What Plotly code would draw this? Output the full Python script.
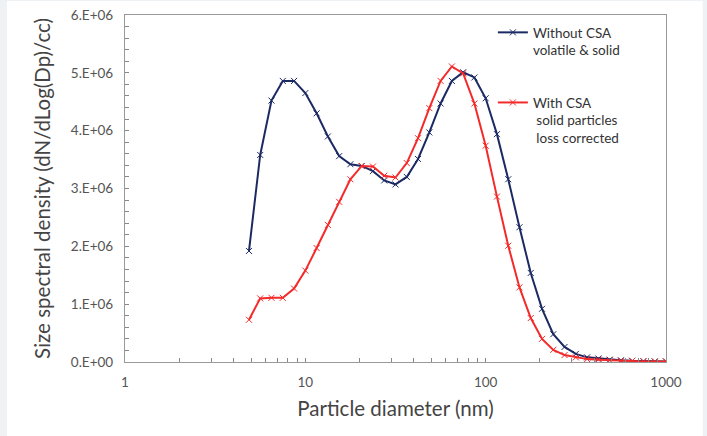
import plotly.graph_objects as go

# Particle diameters (nm), 16 channels per decade
diameter_nm = [4.87, 5.62, 6.49, 7.50, 8.66, 10.0, 11.55, 13.34, 15.40, 17.78,
               20.54, 23.71, 27.38, 31.62, 36.52, 42.17, 48.70, 56.23, 64.94, 74.99,
               86.60, 100.0, 115.5, 133.4, 154.0, 177.8, 205.4, 237.1, 273.8, 316.2,
               365.2, 421.7, 487.0, 562.3, 649.4, 749.9, 866.0, 1000.0]

# Without CSA (volatile & solid), dN/dlogDp per cc
without_csa = [1.92e6, 3.58e6, 4.52e6, 4.86e6, 4.86e6, 4.65e6, 4.30e6, 3.90e6, 3.56e6, 3.42e6,
               3.39e6, 3.30e6, 3.14e6, 3.07e6, 3.20e6, 3.51e6, 3.97e6, 4.47e6, 4.86e6, 5.01e6,
               4.92e6, 4.56e6, 3.94e6, 3.16e6, 2.33e6, 1.54e6, 0.92e6, 0.48e6, 0.26e6, 0.14e6,
               0.08e6, 0.06e6, 0.04e6, 0.03e6, 0.02e6, 0.015e6, 0.01e6, 0.01e6]

# With CSA (solid particles, loss corrected)
with_csa = [0.73e6, 1.10e6, 1.11e6, 1.11e6, 1.27e6, 1.58e6, 1.97e6, 2.37e6, 2.77e6, 3.16e6,
            3.39e6, 3.38e6, 3.22e6, 3.19e6, 3.44e6, 3.87e6, 4.39e6, 4.86e6, 5.11e6, 4.99e6,
            4.47e6, 3.74e6, 2.86e6, 2.01e6, 1.29e6, 0.76e6, 0.40e6, 0.21e6, 0.12e6, 0.08e6,
            0.05e6, 0.04e6, 0.03e6, 0.02e6, 0.02e6, 0.01e6, 0.01e6, 0.01e6]

series_names = ["Without CSA<br>volatile & solid",
                "With CSA<br>\u00a0solid particles<br>\u00a0loss corrected"]

x_tickvals = [1, 10, 100, 1000]
x_ticktext = ["1", "10", "100", "1000"]
x_minor_vals = [2, 3, 4, 5, 6, 7, 8, 9, 20, 30, 40, 50, 60, 70, 80, 90,
                200, 300, 400, 500, 600, 700, 800, 900]
y_tickvals = [0, 1e6, 2e6, 3e6, 4e6, 5e6, 6e6]
y_ticktext = ["0.E+00", "1.E+06", "2.E+06", "3.E+06", "4.E+06", "5.E+06", "6.E+06"]

BLUE = "#1c2a64"
RED = "#f42a2a"
FONT = "Lato, 'Open Sans', sans-serif"

fig = go.Figure()
fig.add_trace(go.Scatter(
    x=diameter_nm, y=without_csa, name=series_names[0], mode="lines+markers",
    line=dict(color=BLUE, width=2),
    marker=dict(symbol="x-thin", size=6, line=dict(color=BLUE, width=1)),
    legendgroup="a"))
fig.add_trace(go.Scatter(
    x=diameter_nm, y=with_csa, name=series_names[1], mode="lines+markers",
    line=dict(color=RED, width=2),
    marker=dict(symbol="x-thin", size=6, line=dict(color=RED, width=1)),
    legendgroup="b"))

# white panel over light page background
fig.add_shape(type="rect", xref="paper", yref="paper",
              x0=-0.218, x1=1.068, y0=-0.215, y1=1.04,
              fillcolor="white", line=dict(width=0), layer="below")

fig.update_layout(
    width=707, height=436,
    margin=dict(l=125, r=41, t=15, b=74, autoexpand=False),
    paper_bgcolor="#eef2f5", plot_bgcolor="white",
    font=dict(family=FONT, color="#444444"),
    showlegend=True,
    legend=dict(x=0.68, y=0.994, xanchor="left", yanchor="top",
                bgcolor="rgba(0,0,0,0)", valign="top",
                font=dict(size=13.5, color="#333333"),
                tracegroupgap=32, itemwidth=30),
)
fig.update_xaxes(
    type="log", range=[0, 3], automargin=False,
    tickvals=x_tickvals, ticktext=x_ticktext,
    ticks="inside", ticklen=4, tickcolor="#888888",
    minor=dict(tickvals=x_minor_vals, ticks="inside", ticklen=4, tickcolor="#888888", showgrid=False),
    showgrid=False, zeroline=False,
    showline=True, linecolor="#999999", linewidth=1.3, mirror=True,
    tickfont=dict(size=13.5, color="#555555"), ticklabelstandoff=8,
    title=dict(text="Particle diameter (nm)", font=dict(size=20.5, color="#444444"), standoff=12),
)
fig.update_yaxes(
    range=[0, 6e6], automargin=False,
    tickvals=y_tickvals, ticktext=y_ticktext,
    ticks="inside", ticklen=4, tickcolor="#888888",
    minor=dict(dtick=2e5, ticks="inside", ticklen=4, tickcolor="#888888", showgrid=False),
    showgrid=False, zeroline=False,
    showline=True, linecolor="#999999", linewidth=1.3, mirror=True,
    tickfont=dict(size=13.5, color="#555555"), ticklabelstandoff=8,
    title=dict(text="Size spectral density (dN/dLog(Dp)/cc)", font=dict(size=20.5, color="#444444"), standoff=14),
)

fig.write_html("out.html", config={"displayModeBar": False},
               post_script="document.body.style.margin='0';")
